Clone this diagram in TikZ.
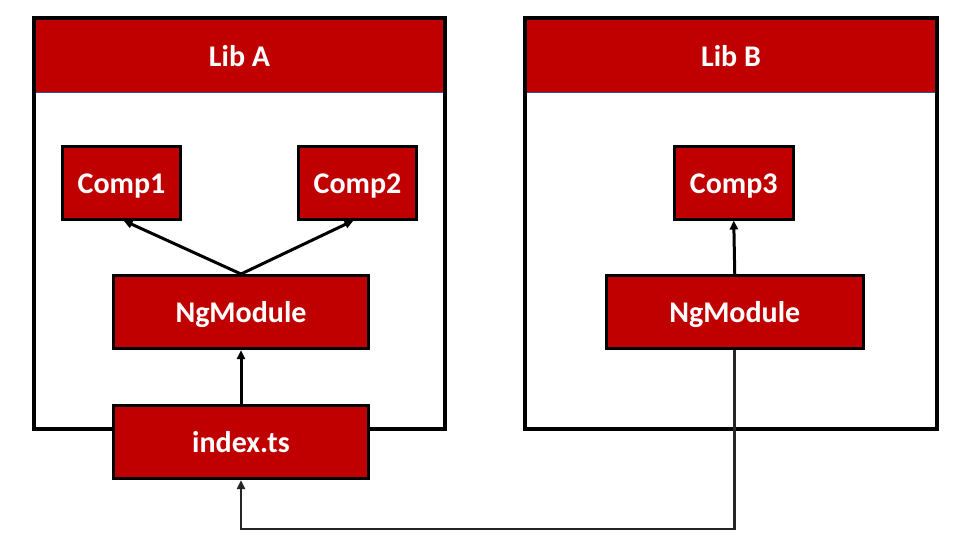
\documentclass[tikz,border=0pt]{standalone}
\usepackage{fontspec}
\setmainfont{Carlito}
\usetikzlibrary{arrows.meta}
\definecolor{libred}{HTML}{C00000}
\definecolor{hdrline}{HTML}{2F528F}
\begin{document}
\begin{tikzpicture}[x=1pt,y=-1pt,
  lbl/.style={text=white,font=\fontsize{30}{36}\selectfont\bfseries,text height=21pt,text depth=0pt},
  comp/.style={lbl,draw=black,fill=libred,line width=3pt,minimum width=118pt,minimum height=73pt,inner sep=0pt},
  wide/.style={comp,minimum width=255pt},
  hdr/.style={lbl,fill=libred,minimum width=407pt,minimum height=72pt,inner sep=0pt},
  lib/.style={draw=black,line width=4pt},
  conn/.style={draw=black,line width=3pt,-{Triangle[length=9pt,width=8pt]}},
  feed/.style={draw=black!85,line width=2.6pt,-{Triangle[length=9pt,width=8pt]}}]
\useasboundingbox (0,0) rectangle (971,557);
% Lib A frame
\draw[lib] (34,18) rectangle (445,429);
\node[hdr] (hdrA) at (239.5,56) {Lib A};
\draw[hdrline,line width=1pt] (hdrA.south west) -- (hdrA.south east);
% Lib B frame
\draw[lib] (525,18) rectangle (937,429);
\node[hdr,minimum width=408pt] (hdrB) at (731,56) {Lib B};
\draw[hdrline,line width=1pt] (hdrB.south west) -- (hdrB.south east);
% Nodes
\node[comp] (c1) at (121.5,182.5) {Comp1};
\node[comp] (c2) at (357.5,182.5) {Comp2};
\node[wide] (ngA) at (241,312) {NgModule};
\node[wide] (idx) at (241,442) {index.ts};
\node[comp,minimum width=118.5pt] (c3) at (733.75,182.5) {Comp3};
\node[wide,minimum width=256.5pt] (ngB) at (734.75,312) {NgModule};
% connectors
\draw[conn] (ngA.north) -- ([xshift=2pt]c1.south);
\draw[conn] (ngA.north) -- ([xshift=-4pt]c2.south);
\draw[conn] (idx.north) -- (ngA.south);
\draw[conn] (ngB.north) -- (c3.south);
\coordinate (low) at (241,529);
\draw[feed] (ngB.south) |- (low) -- (idx.south);
\end{tikzpicture}
\end{document}
